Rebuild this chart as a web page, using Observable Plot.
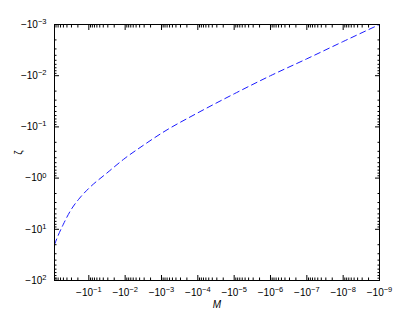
<!DOCTYPE html>
<html>
<head>
<meta charset="utf-8">
<script src="https://cdn.jsdelivr.net/npm/d3@7"></script>
<script src="https://cdn.jsdelivr.net/npm/@observablehq/plot@0.6"></script>
<style>
  html, body { margin: 0; padding: 0; background: white; }
</style>
</head>
<body>
<div id="chart"></div>
<script>
// Data
const M = [-0.881, -0.708, -0.501, -0.316, -0.178, -0.1, -0.0316, -0.01, -3.16e-3, -1e-3,
           -1e-4, -1e-5, -1e-6, -1e-7, -1e-8, -1e-9];
const zeta = [-19.95, -13.5, -7.94, -4.27, -2.45, -1.585, -0.794, -0.407, -0.229, -0.133,
              -0.0531, -0.0226, -0.01, -4.68e-3, -2.15e-3, -1.0e-3];
const xMajor = [-1e-1, -1e-2, -1e-3, -1e-4, -1e-5, -1e-6, -1e-7, -1e-8, -1e-9];
const yMajor = [-1e2, -1e1, -1e0, -1e-1, -1e-2, -1e-3];
const xDomain = [-0.88, -1e-9];
const yDomain = [-100, -1e-3];

const data = M.map((m, i) => ({M: m, zeta: zeta[i]}));

function minorTicks(lo, hi) {
  const out = [];
  for (let e = lo; e < hi; e++) for (let k = 2; k <= 9; k++) out.push(-k * Math.pow(10, e));
  return out;
}
const xMinor = minorTicks(-9, 0).filter(v => v >= xDomain[0] && v <= xDomain[1]);
const yMinor = minorTicks(-3, 2);

const fmt = d => "\u221210^" + String(Math.round(Math.log10(-d))).replace("-", "\u2212");
const blank = () => "";

const chart = Plot.plot({
  width: 420, height: 315,
  marginLeft: 54, marginRight: 41, marginTop: 24, marginBottom: 35,
  style: {fontFamily: "'Liberation Sans', Arial, sans-serif", fontSize: "10px", background: "white", color: "black"},
  x: {type: "log", domain: xDomain},
  y: {type: "log", domain: yDomain},
  marks: [
    Plot.line(data, {x: "M", y: "zeta", stroke: "#1a1aff", strokeWidth: 1, strokeDasharray: "6,4", curve: "monotone-x"}),
    Plot.frame({stroke: "black"}),
    // labels
    Plot.axisX({anchor: "bottom", ticks: xMajor, tickSize: 0, tickPadding: 8, tickFormat: fmt,
                label: "M", labelAnchor: "center", labelArrow: "none", labelOffset: 27}),
    Plot.axisY({anchor: "left", ticks: yMajor, tickSize: 0, tickPadding: 8, tickFormat: fmt,
                label: "ζ", labelAnchor: "center", labelArrow: "none", labelOffset: 40}),
    // inward ticks
    Plot.axisX({anchor: "bottom", ticks: xMajor, tickSize: -5, tickFormat: blank, label: null}),
    Plot.axisX({anchor: "bottom", ticks: xMinor, tickSize: -2.5, tickFormat: blank, label: null}),
    Plot.axisX({anchor: "top", ticks: xMajor, tickSize: -5, tickFormat: blank, label: null}),
    Plot.axisX({anchor: "top", ticks: xMinor, tickSize: -2.5, tickFormat: blank, label: null}),
    Plot.axisY({anchor: "left", ticks: yMajor, tickSize: -5, tickFormat: blank, label: null}),
    Plot.axisY({anchor: "left", ticks: yMinor, tickSize: -2.5, tickFormat: blank, label: null}),
    Plot.axisY({anchor: "right", ticks: yMajor, tickSize: -5, tickFormat: blank, label: null}),
    Plot.axisY({anchor: "right", ticks: yMinor, tickSize: -2.5, tickFormat: blank, label: null})
  ]
});

// superscripts for exponents
d3.select(chart).selectAll("text").each(function() {
  const t = this.textContent;
  if (t.includes("^")) {
    const [base, exp] = t.split("^");
    const sel = d3.select(this);
    sel.text(null);
    sel.append("tspan").text(base);
    sel.append("tspan").attr("dy", "-0.5em").attr("font-size", "7.5px").text(exp);
  }
  if (t === "M") d3.select(this).attr("font-style", "italic");
});

document.getElementById("chart").appendChild(chart);
</script>
</body>
</html>
